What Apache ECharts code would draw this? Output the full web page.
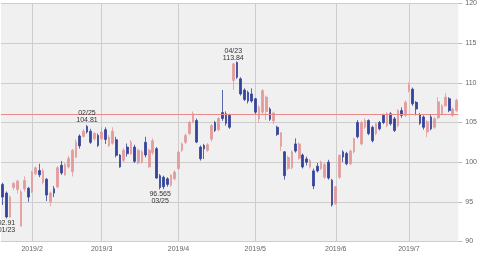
<!DOCTYPE html>
<html>
<head>
<meta charset="utf-8">
<script src="https://cdn.jsdelivr.net/npm/echarts@6/dist/echarts.min.js"></script>
<style>html,body{margin:0;padding:0;background:#fff}#c{width:480px;height:254px}</style>
</head>
<body>
<div id="c"></div>
<script>
const dates = [
'2019/01/22','2019/01/23','2019/01/24','2019/01/25','2019/01/28','2019/01/29','2019/01/30','2019/01/31',
'2019/02/01','2019/02/04','2019/02/05','2019/02/06','2019/02/07','2019/02/08','2019/02/11','2019/02/12','2019/02/13','2019/02/14','2019/02/15','2019/02/19','2019/02/20','2019/02/21','2019/02/22','2019/02/25','2019/02/26','2019/02/27','2019/02/28',
'2019/03/01','2019/03/04','2019/03/05','2019/03/06','2019/03/07','2019/03/08','2019/03/11','2019/03/12','2019/03/13','2019/03/14','2019/03/15','2019/03/18','2019/03/19','2019/03/20','2019/03/21','2019/03/22','2019/03/25','2019/03/26','2019/03/27','2019/03/28','2019/03/29',
'2019/04/01','2019/04/02','2019/04/03','2019/04/04','2019/04/05','2019/04/08','2019/04/09','2019/04/10','2019/04/11','2019/04/12','2019/04/15','2019/04/16','2019/04/17','2019/04/18','2019/04/22','2019/04/23','2019/04/24','2019/04/25','2019/04/26','2019/04/29','2019/04/30',
'2019/05/01','2019/05/02','2019/05/03','2019/05/06','2019/05/07','2019/05/08','2019/05/09','2019/05/10','2019/05/13','2019/05/14','2019/05/15','2019/05/16','2019/05/17','2019/05/20','2019/05/21','2019/05/22','2019/05/23','2019/05/24','2019/05/28','2019/05/29','2019/05/30','2019/05/31',
'2019/06/03','2019/06/04','2019/06/05','2019/06/06','2019/06/07','2019/06/10','2019/06/11','2019/06/12','2019/06/13','2019/06/14','2019/06/17','2019/06/18','2019/06/19','2019/06/20','2019/06/21','2019/06/24','2019/06/25','2019/06/26','2019/06/27','2019/06/28',
'2019/07/01','2019/07/02','2019/07/03','2019/07/05','2019/07/08','2019/07/09','2019/07/10','2019/07/11','2019/07/12','2019/07/15','2019/07/16','2019/07/17','2019/07/18','2019/07/19'
];
const opens = [
97.2,96.1,93.1,96.8,96.55,91.95,96.65,96.7,
96.25,98.54,98.95,97.45,97.85,95.0,96.65,96.88,99.6,98.4,99.4,98.8,100.65,103.3,103.24,104.5,103.9,102.95,103.37,
102.95,104.1,102.1,102.4,102.83,100.9,100.23,101.9,101.07,101.9,99.9,100.0,102.5,99.4,101.2,101.7,98.3,98.1,97.9,97.1,97.9,
99.2,101.5,102.5,103.6,105.04,105.25,101.9,102.1,101.5,102.9,105.0,104.1,106.25,106.1,105.9,110.3,112.57,110.5,109.1,108.8,108.6,
108.0,105.45,106.3,106.4,106.7,105.2,104.4,102.0,101.3,99.2,99.3,102.3,100.5,100.9,100.4,99.4,98.9,99.5,99.2,98.1,100.0,97.72,
94.8,98.1,101.3,101.1,99.8,101.3,105.0,102.3,104.4,105.25,104.4,103.6,105.0,105.9,104.6,106.1,105.46,104.6,106.5,105.9,
109.0,109.2,107.55,106.0,105.7,103.8,105.7,104.4,105.6,106.1,107.1,108.0,105.9,106.5
];
const closes = [
95.6,93.1,95.6,97.3,97.6,96.25,97.7,95.6,
98.76,99.29,98.4,98.9,95.85,96.1,96.1,99.3,98.64,99.7,100.48,101.5,102.5,102.05,103.9,103.8,102.5,103.6,102.1,
103.8,102.87,103.15,103.9,100.86,99.4,101.49,101.07,102.53,100.1,101.49,101.3,100.9,101.5,102.7,98.0,96.8,96.9,97.2,98.35,98.76,
101.27,102.3,103.37,105.04,106.1,102.53,100.44,101.7,102.2,104.6,104.0,105.5,105.5,104.9,104.4,112.4,110.7,108.6,107.9,107.7,107.7,
106.3,106.9,109.0,108.2,105.4,106.2,103.5,103.7,98.3,100.6,101.3,101.4,102.3,99.4,100.0,100.2,97.0,98.9,100.0,99.7,98.0,94.6,
96.9,100.86,100.65,99.8,101.4,102.95,103.2,105.0,105.25,103.6,102.7,104.84,104.2,105.0,106.1,104.84,104.0,106.5,105.9,107.55,
109.8,107.35,106.7,104.9,104.4,105.1,104.2,105.46,107.6,107.1,108.2,106.5,106.7,107.8
];
const lows = [
94.6,92.91,93.0,96.45,96.05,91.9,96.3,95.0,
96.1,98.35,98.1,97.2,95.1,94.45,95.6,96.7,98.4,98.3,99.2,98.2,100.5,101.7,103.1,103.6,102.3,102.7,101.9,
102.8,102.3,101.9,102.2,100.6,99.3,100.0,100.7,100.9,99.9,99.7,99.8,100.6,99.3,100.9,97.9,96.565,96.6,96.9,96.9,97.7,
99.0,101.3,102.3,103.4,104.9,102.4,100.2,100.4,101.3,102.6,103.8,103.9,105.2,104.6,104.2,109.1,110.5,108.4,107.7,107.4,107.5,
106.0,105.0,106.0,105.3,105.2,104.8,103.3,101.4,97.8,99.0,99.1,101.2,100.3,99.2,99.6,99.2,96.6,98.7,99.0,97.9,97.8,94.4,
94.6,97.9,100.0,99.6,99.6,101.1,103.0,102.1,104.2,103.4,102.5,103.4,104.0,104.8,104.4,104.6,103.8,104.4,105.6,105.7,
108.8,107.1,105.9,104.7,104.1,103.15,104.0,104.2,105.4,105.9,107.0,106.3,105.7,106.3
];
const highs = [
97.4,96.3,95.8,97.5,97.8,96.5,98.2,96.9,
98.9,99.48,99.8,99.2,98.0,96.3,97.0,99.5,100.15,99.9,100.8,101.7,102.9,103.5,104.2,104.7,104.2,103.8,103.6,
104.4,104.4,103.4,104.4,103.2,101.0,101.8,102.35,102.8,102.2,101.7,101.5,103.2,101.7,103.0,101.9,98.5,98.3,98.1,98.5,99.0,
101.5,102.5,103.6,105.2,106.4,105.5,102.1,102.3,102.4,104.8,105.2,105.7,109.1,106.4,106.1,112.5,112.7,110.7,109.3,109.0,109.3,
108.1,107.2,109.2,108.4,106.9,106.4,104.6,103.8,101.4,100.8,101.5,103.0,102.5,101.1,100.7,100.4,99.2,99.9,100.2,99.9,100.3,97.9,
97.0,101.0,101.5,101.3,101.6,103.1,105.3,105.2,105.5,105.4,104.6,105.0,105.2,106.1,106.3,106.3,105.7,106.7,106.9,107.8,
110.06,109.4,107.7,106.2,105.9,105.3,106.0,105.7,108.2,107.3,108.7,108.2,106.9,108.0
];
const yTicks = [90, 95, 100, 105, 110, 115, 120];
const refLevel = 106.1;
const highNotes = [['2019/02/25', 104.81], ['2019/04/23', 113.84]];
const lowNotes = [['2019/01/23', 92.91], ['2019/03/25', 96.565]];

const candle = dates.map((d, i) => [opens[i], closes[i], lows[i], highs[i]]);
const isMonthStart = (i) => i === 0 ? false : dates[i].slice(5, 7) !== dates[i - 1].slice(5, 7);
const mmdd = (d) => d.slice(5);

const markData = [];
highNotes.forEach(([d, v]) => {
  const i = dates.indexOf(d);
  markData.push({ coord: [d, highs[i]], value: v,
    label: { position: 'top', formatter: mmdd(d) + '\n' + v } });
});
lowNotes.forEach(([d, v]) => {
  const i = dates.indexOf(d);
  markData.push({ coord: [d, lows[i]], value: v,
    label: { position: 'bottom', formatter: v + '\n' + mmdd(d) } });
});

const chart = echarts.init(document.getElementById('c'), null, { renderer: 'canvas' });
chart.setOption({
  animation: false,
  backgroundColor: '#ffffff',
  grid: { left: 1, right: 19, top: 2.5, bottom: 12.5, show: true, backgroundColor: '#f0f0f0', borderWidth: 0 },
  xAxis: {
    type: 'category', data: dates, boundaryGap: true,
    axisLine: { show: false }, axisTick: { show: false },
    axisLabel: { interval: (i) => isMonthStart(i), formatter: (v) => v.slice(0, 4) + '/' + parseInt(v.slice(5, 7), 10),
      fontSize: 7, color: '#666', margin: 4, fontFamily: 'Liberation Sans' },
    splitLine: { show: true, interval: (i) => isMonthStart(i), alignWithLabel: true, lineStyle: { color: '#cdcdcd', width: 1 } }
  },
  yAxis: {
    type: 'value', position: 'right', min: yTicks[0], max: yTicks[yTicks.length - 1], interval: 5,
    axisLine: { show: false },
    axisTick: { show: true, length: 4, lineStyle: { color: '#bbb' } },
    axisLabel: { fontSize: 7, color: '#666', margin: 7, fontFamily: 'Liberation Sans' },
    splitLine: { show: true, lineStyle: { color: '#cdcdcd', width: 1 } }
  },
  series: [{
    type: 'candlestick', data: candle, barWidth: 2.2,
    itemStyle: { color: '#e39b9b', color0: '#34449a', borderColor: '#e39b9b', borderColor0: '#34449a', borderWidth: 0.8 },
    markLine: { silent: true, symbol: 'none', data: [{ yAxis: refLevel }],
      lineStyle: { color: '#e88a8a', width: 1, type: 'solid' }, label: { show: false } },
    markPoint: { symbol: 'circle', symbolSize: 0, data: markData,
      label: { show: true, fontSize: 7, lineHeight: 7, color: '#333', distance: 1, fontFamily: 'Liberation Sans' } }
  }]
});
</script>
</body>
</html>
